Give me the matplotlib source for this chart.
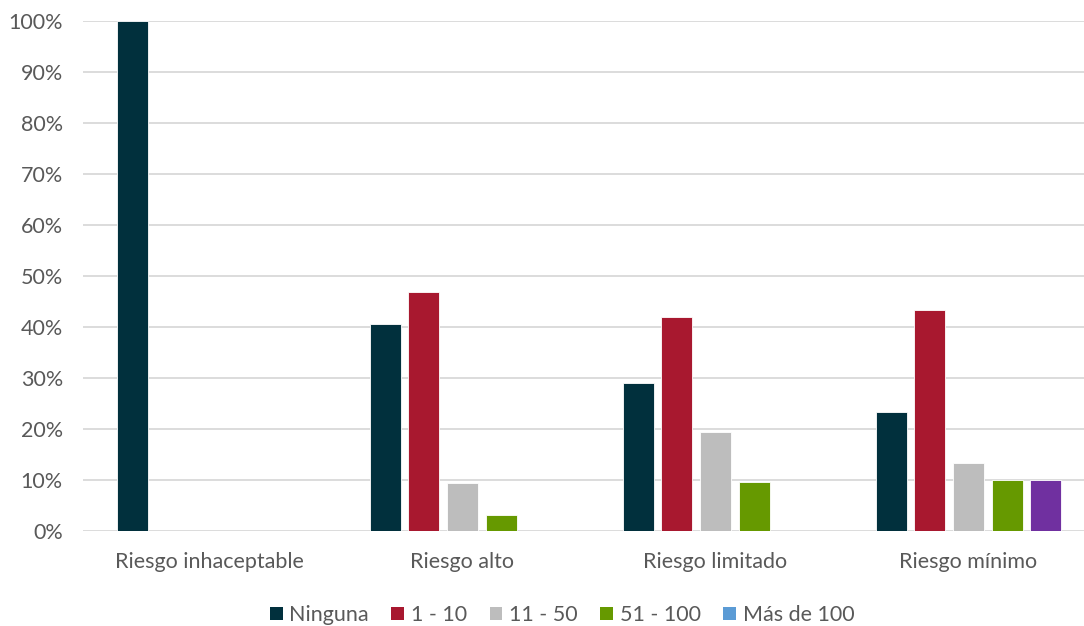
import matplotlib
matplotlib.use("Agg")
import matplotlib.pyplot as plt
from matplotlib.patches import Patch
import numpy as np

categories = ["Riesgo inhaceptable", "Riesgo alto", "Riesgo limitado", "Riesgo mínimo"]
series_names = ["Ninguna", "1 - 10", "11 - 50", "51 - 100", "Más de 100"]

ninguna = [100.0, 40.6, 29.0, 23.3]
uno_diez = [0.0, 46.9, 41.9, 43.3]
once_cincuenta = [0.0, 9.4, 19.4, 13.3]
cincuenta_cien = [0.0, 3.1, 9.7, 10.0]
mas_de_cien = [0.0, 0.0, 0.0, 10.0]

y_ticks = [0, 10, 20, 30, 40, 50, 60, 70, 80, 90, 100]

bar_colors = ["#01303D", "#A8182F", "#BDBDBD", "#669900", "#7030A0"]
legend_colors = ["#01303D", "#A8182F", "#BDBDBD", "#669900", "#5B9BD5"]

plt.rcParams['font.family'] = ['Lato', 'DejaVu Sans']

fig = plt.figure(figsize=(10.84, 6.26), dpi=100)
ax = fig.add_axes([83 / 1084, 95 / 626, 1012 / 1084, 510 / 626])

x = np.arange(len(categories))
step = 0.153
width = 0.1225
all_series = [ninguna, uno_diez, once_cincuenta, cincuenta_cien, mas_de_cien]
for i, (vals, col) in enumerate(zip(all_series, bar_colors)):
    offs = (i - 2) * step
    ax.bar(x + offs, vals, width=width, color=col, edgecolor="white",
           linewidth=0.6, zorder=3)

fs = 15.5
ax.set_xlim(-0.5, len(categories) - 0.5)
ax.set_ylim(0, 100)
ax.set_yticks(y_ticks)
ax.set_yticklabels([f"{t}%" for t in y_ticks])
ax.set_xticks(x)
ax.set_xticklabels(categories)
ax.tick_params(axis="both", length=0, labelsize=fs, colors="#595959")
ax.tick_params(axis="x", pad=15)
ax.tick_params(axis="y", pad=14.5)
ax.grid(axis="y", color="#D9D9D9", linewidth=1.3, zorder=0)
for s in ax.spines.values():
    s.set_visible(False)

handles = [Patch(facecolor=c, edgecolor="none") for c in legend_colors]
fig.legend(handles, series_names, loc="center", bbox_to_anchor=(562 / 1084, 1 - 615 / 626),
           ncol=5, frameon=False, fontsize=fs, handlelength=0.6, handleheight=0.6,
           handletextpad=0.3, columnspacing=1.05, labelcolor="#595959")

fig.savefig("out.png", dpi=100)
